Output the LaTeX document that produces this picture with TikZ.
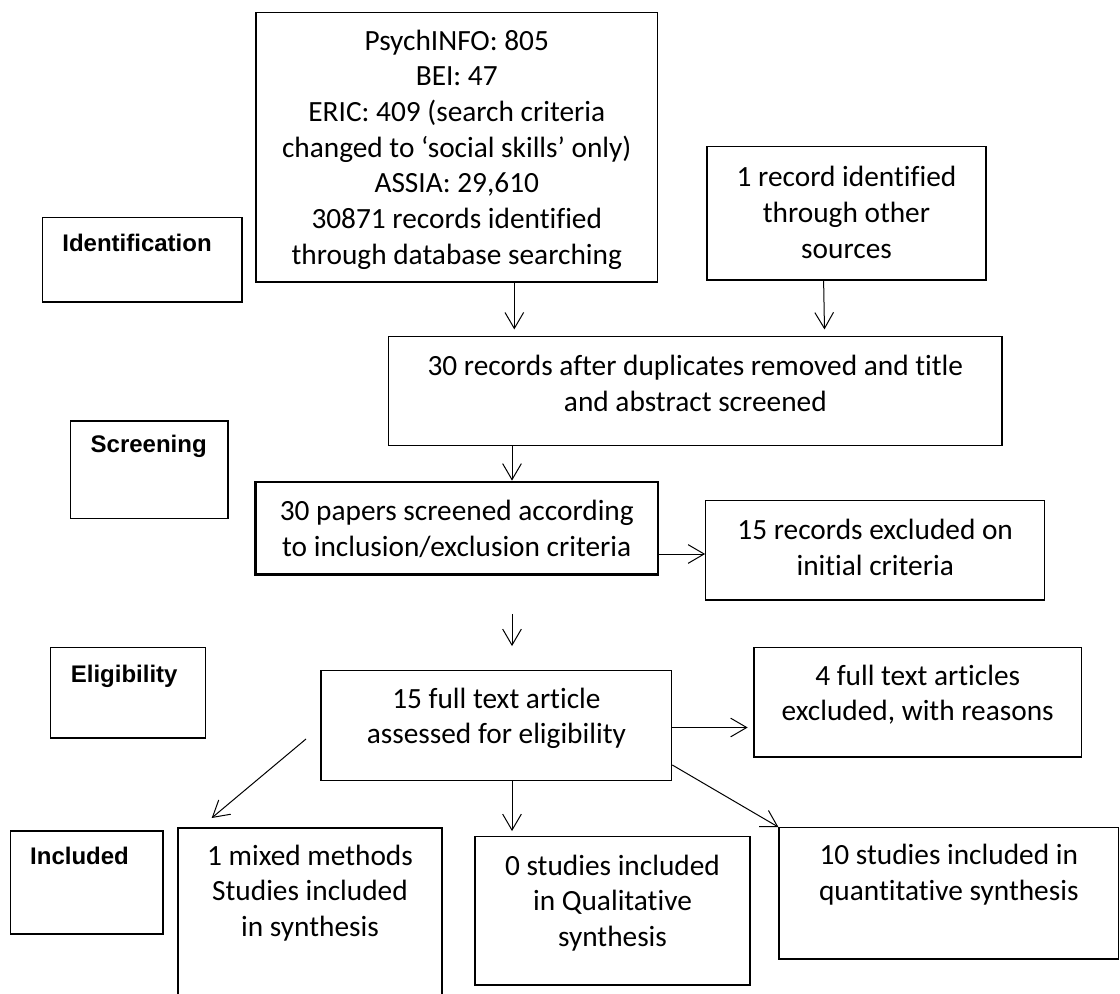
\documentclass[tikz,border=0pt]{standalone}
\usepackage{fontspec}
\setmainfont{Carlito}[RawFeature=-liga]
\newfontfamily\stagefont{Liberation Sans}
\usetikzlibrary{arrows.meta,fit}
\begin{document}
\begin{tikzpicture}[x=0.75pt,y=-0.75pt,
  box/.style={draw=black, line width=0.9pt, inner sep=0pt},
  thickbox/.style={box, line width=1.6pt},
  body/.style={align=center, inner sep=0pt, font=\fontsize{22}{26.8}\selectfont},
  stage/.style={inner sep=0pt, font=\stagefont\bfseries\fontsize{18}{22}\selectfont},
  arr/.style={-{Straight Barb[length=12pt,width=14pt]}, line width=0.75pt},
]
\useasboundingbox (0,0) rectangle (1120,994);
\fill[white] (0,0) rectangle (1120,994);

% stage labels on the left
\node[box, fit={(42.7,217.7) (242,302)}] (idl) {};
\node[stage] (idl-t) at (137,243) {Identification};
\node[box, fit={(70.7,421) (228,518.3)}] (scr) {};
\node[stage] (scr-t) at (148.7,446) {Screening};
\node[box, fit={(50.7,647.7) (205.7,738)}] (elig) {};
\node[stage] (elig-t) at (124.2,676) {Eligibility};
\node[box, fit={(10.7,831) (163,934)}] (incl) {};
\node[stage] (incl-t) at (79.5,856) {Included};

% flow boxes
\node[box, fit={(256,12.7) (657.5,282)}] (db) {};
\node[body] (db-t) at (456.75,149.6) {PsychINFO: 805\\BEI: 47\\ERIC: 409 (search criteria\\changed to ‘social skills’ only)\\ASSIA: 29,610\\30871 records identified\\through database searching};

\node[box, fit={(707,146.7) (986,280)}] (other) {};
\node[body] (other-t) at (846.5,212.3) {1 record identified\\through other\\sources};

\node[box, fit={(388.6,336.7) (1002,445.7)}] (rec30) {};
\node[body] (rec30-t) at (695.3,383.3) {30 records after duplicates removed and title\\and abstract screened};

\node[thickbox, fit={(255.5,481.7) (658,574.5)}] (pap30) {};
\node[body] (pap30-t) at (456.75,529.2) {30 papers screened according\\to inclusion/exclusion criteria};

\node[box, fit={(705.7,500.7) (1044.6,600)}] (exc15) {};
\node[body] (exc15-t) at (875.2,547.5) {15 records excluded on\\initial criteria};

\node[box, fit={(321,670.7) (671.7,780.5)}] (ft15) {};
\node[body] (ft15-t) at (496.4,718.3) {15 full text article\\assessed for eligibility};

\node[box, fit={(754,647.3) (1081.5,757)}] (ft4) {};
\node[body] (ft4-t) at (917.7,694.8) {4 full text articles\\excluded, with reasons};

\node[box, fit={(178,828) (442,1006)}] (mixed) {};
\node[body] (mixed-t) at (310,893) {1 mixed methods\\Studies included\\in synthesis};

\node[box, fit={(475,836.7) (750,985)}] (st0) {};
\node[body] (st0-t) at (612.5,903) {0 studies included\\in Qualitative\\synthesis};

\node[box, fit={(779,827.7) (1118.5,959)}] (st10) {};
\node[body] (st10-t) at (948.8,875) {10 studies included in\\quantitative synthesis};

% free ends of the left fan-out arrow
\coordinate (fanL) at (306,739);
\coordinate (fanLtip) at (211.7,818);

% connectors
\draw[arr, shorten >=5pt] (514.3,0 |- db.south) -- (514.3,0 |- rec30.north);
\draw[arr, shorten >=5pt] (823.6,0 |- other.south) -- (824.6,0 |- rec30.north);
\draw[arr] (512,0 |- rec30.south) -- (512,0 |- pap30.north);
\draw[arr] (pap30.east |- 0,554) -- (exc15.west |- 0,554);
\draw[arr, shorten <=28.7pt, shorten >=18pt] (512,0 |- pap30.south) -- (512,0 |- ft15.north);
\draw[arr, shorten >=4.3pt] (ft15.east |- 0,727.5) -- (ft4.west |- 0,727.5);
\draw[arr] (fanL) -- (fanLtip);
\draw[arr, shorten >=3.75pt] (512,0 |- ft15.south) -- (512,0 |- st0.north);
\draw[arr] (ft15.east |- 0,765) -- (st10.north west);
\end{tikzpicture}
\end{document}
